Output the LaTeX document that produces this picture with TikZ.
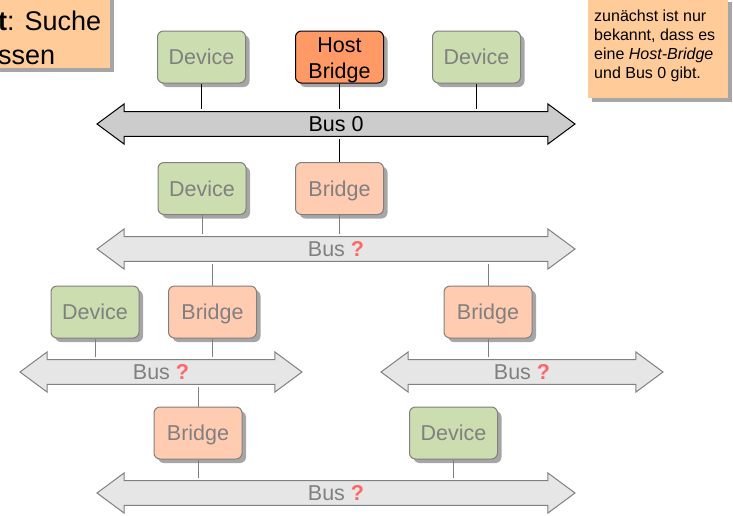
\documentclass[tikz,border=0pt]{standalone}
\usepackage{fontspec}
\setmainfont{Liberation Sans}
\usetikzlibrary{calc,shapes.arrows,shadows}

\definecolor{devgreen}{RGB}{204,221,175}
\definecolor{bridgepeach}{RGB}{255,204,178}
\definecolor{hostorange}{RGB}{255,153,102}
\definecolor{notebg}{RGB}{255,204,153}
\definecolor{busgray}{RGB}{230,230,230}
\definecolor{busdark}{RGB}{204,204,204}
\definecolor{linegray}{RGB}{128,128,128}
\definecolor{qred}{RGB}{255,102,102}

\tikzset{
	softshadow/.style={drop shadow={shadow xshift=4pt, shadow yshift=-4pt, fill=black!35, opacity=1}},
	box/.style={rounded corners=6pt, minimum width=88pt, minimum height=52pt, inner sep=0pt, line width=1pt, softshadow, font=\fontsize{21.5}{26}\selectfont},
	devbox/.style={box, fill=devgreen, draw=linegray, text=linegray, text height=15.4pt, text depth=0pt},
	bridgebox/.style={box, fill=bridgepeach, draw=linegray, text=linegray, text height=15.4pt, text depth=0pt},
	hostbox/.style={box, fill=hostorange, draw=black, text=black, align=center},
	bus/.style={double arrow, double arrow head extend=5pt, double arrow tip angle=73, minimum width=40pt, inner sep=0pt, line width=1pt, fill=busgray, draw=linegray, text=linegray, font=\fontsize{21.5}{26}\selectfont},
	knownbus/.style={bus, fill=busdark, draw=black, text=black},
	link/.style={draw=linegray, line width=1pt},
	knownlink/.style={draw=black, line width=1pt},
	notepaper/.style={fill=notebg, softshadow},
	notetext/.style={inner sep=0pt, align=left, anchor=north west}
}
\newcommand{\unk}{\textcolor{qred}{\textbf{?}}}
\def\busrise[#1](#2)(#3){\draw[#1] (#2.south) -- ($(#2.south |- #3)+(0,15pt)$);}
\def\busdrop[#1](#2)(#3){\draw[#1] ($(#3.north |- #2)-(0,15pt)$) -- (#3.north);}

\begin{document}
\begin{tikzpicture}[x=1pt, y=1pt]
			%%%%% START %%%%%
			\useasboundingbox (0,0) rectangle (733,-515);
			
			\path[notepaper] (-60,6) rectangle (110,-68);
			\node[notetext, font=\fontsize{27}{34}\selectfont] (goal) at (-2,-10.5) {\textbf{t}: Suche\\ssen};
			
			\path[notepaper] (588,2) rectangle (728,-98);
			\node[notetext, font=\fontsize{16}{19}\selectfont] (hint) at (594,-10) {zunächst ist nur\\bekannt, dass es\\eine \textit{Host-Bridge}\\und Bus 0 gibt.};
			
			\node[devbox] (devA) at (201.5,-57) {Device};
			\node[hostbox] (host) at (339.5,-57) {\rule{0pt}{21pt}Host\\Bridge};
			\node[devbox] (devB) at (476.5,-57) {Device};
			\node[knownbus, minimum height=478pt] (bus0) at (336,-124) {Bus 0};
			
			\node[devbox] (devC) at (202,-188.5) {Device};
			\node[bridgebox] (brA) at (339.5,-188.5) {Bridge};
			\node[bus, minimum height=478pt] (busA) at (336,-249) {Bus \unk};
			
			\node[devbox] (devD) at (95,-312) {Device};
			\node[bridgebox] (brB) at (212.5,-312) {Bridge};
			\node[bridgebox] (brC) at (488,-312) {Bridge};
			\node[bus, minimum height=282pt] (busB) at (161,-372) {Bus \unk};
			\node[bus, minimum height=282pt] (busC) at (522,-372) {Bus \unk};
			
			\node[bridgebox] (brD) at (198,-433) {Bridge};
			\node[devbox] (devE) at (453.5,-433) {Device};
			\node[bus, minimum height=478pt] (busD) at (336,-493) {Bus \unk};
			
			\busrise[knownlink](devA)(bus0)
			\busrise[knownlink](host)(bus0)
			\busrise[knownlink](devB)(bus0)
			\busdrop[knownlink](bus0)(brA)
			
			\busrise[link](devC)(busA)
			\busrise[link](brA)(busA)
			\busdrop[link](busA)(brB)
			\busdrop[link](busA)(brC)
			
			\busrise[link](devD)(busB)
			\busrise[link](brB)(busB)
			\busrise[link](brC)(busC)
			\busdrop[link](busB)(brD)
			
			\busrise[link](brD)(busD)
			\busrise[link](devE)(busD)
			%%%%% END %%%%%
\end{tikzpicture}
\end{document}
